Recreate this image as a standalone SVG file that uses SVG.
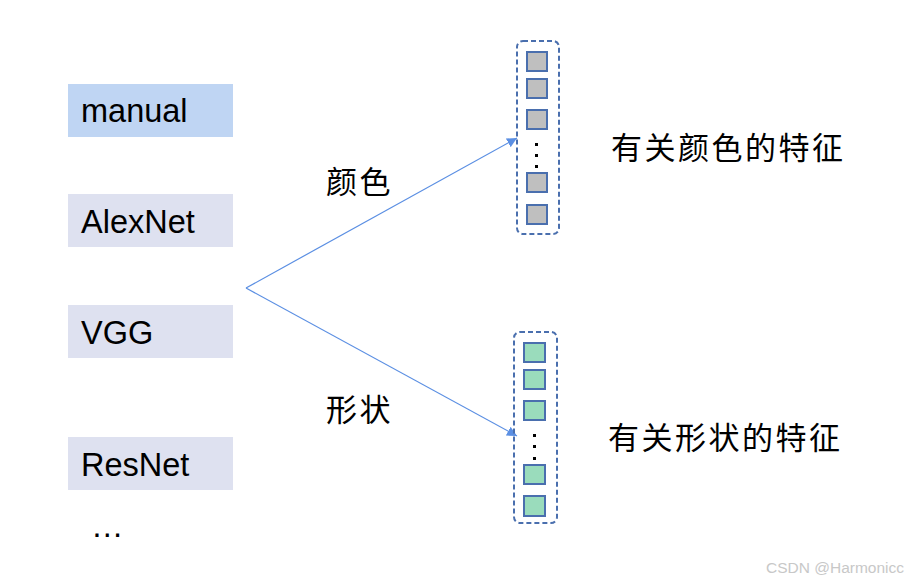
<svg xmlns="http://www.w3.org/2000/svg" width="918" height="583" viewBox="0 0 918 583">
<defs>
<style>
.box{stroke:none}
.lbl{font-family:"Liberation Sans",Arial,sans-serif;font-size:32.5px;fill:#000}
.cjk{font-family:"Noto Sans CJK SC","Liberation Sans",sans-serif;font-size:31px;letter-spacing:2.5px;fill:#000}
.cont{fill:none;stroke:#4a6fae;stroke-width:2;stroke-dasharray:5 3}
.sg{fill:#bfbfbf;stroke:#4a6fae;stroke-width:2}
.sq{fill:#9adcbc;stroke:#4a6fae;stroke-width:2}
.dot{fill:#000}
.conn{stroke:#5b8fe3;stroke-width:1.2;fill:none}
</style>
<marker id="ah" viewBox="0 0 10 10" refX="10" refY="5" markerWidth="10" markerHeight="10" markerUnits="userSpaceOnUse" orient="auto">
<path d="M0,0 L10,5 L0,10 z" fill="#5b8fe3"/>
</marker>
</defs>
<rect width="918" height="583" fill="#fff"/>
<g id="manual"><rect class="box" x="68" y="84" width="165" height="53" fill="#bfd5f3"/><text class="lbl" x="81" y="122">manual</text></g>
<g id="alexnet"><rect class="box" x="68" y="194" width="165" height="53" fill="#dee1f0"/><text class="lbl" x="81" y="233">AlexNet</text></g>
<g id="vgg"><rect class="box" x="68" y="305" width="165" height="53" fill="#dee1f0"/><text class="lbl" x="81" y="344">VGG</text></g>
<g id="resnet"><rect class="box" x="68" y="437" width="165" height="53" fill="#dee1f0"/><text class="lbl" x="81" y="476">ResNet</text></g>
<g id="more"><text class="lbl" x="91" y="537">…</text></g>
<g id="connectors">
<line class="conn" x1="246" y1="288" x2="517" y2="138" marker-end="url(#ah)"/>
<line class="conn" x1="246" y1="288" x2="517" y2="436" marker-end="url(#ah)"/>
<text class="cjk" x="326" y="193">颜色</text>
<text class="cjk" x="326" y="421">形状</text>
</g>
<g id="color-vec">
<rect class="cont" x="517" y="41" width="42" height="193" rx="6"/>
<rect class="sg" x="527" y="52" width="20" height="19"/>
<rect class="sg" x="527" y="79" width="20" height="19"/>
<rect class="sg" x="527" y="110" width="20" height="19"/>
<rect class="dot" x="535" y="143" width="3" height="3"/>
<rect class="dot" x="535" y="154" width="3" height="3"/>
<rect class="dot" x="535" y="165" width="3" height="3"/>
<rect class="sg" x="527" y="173" width="20" height="19"/>
<rect class="sg" x="527" y="205" width="20" height="19"/>
</g>
<g id="shape-vec">
<rect class="cont" x="514" y="332" width="43" height="191" rx="6"/>
<rect class="sq" x="524" y="343" width="21" height="19"/>
<rect class="sq" x="524" y="370" width="21" height="19"/>
<rect class="sq" x="524" y="401" width="21" height="19"/>
<rect class="dot" x="533" y="434" width="3" height="3"/>
<rect class="dot" x="533" y="445" width="3" height="3"/>
<rect class="dot" x="533" y="457" width="3" height="3"/>
<rect class="sq" x="524" y="465" width="21" height="19"/>
<rect class="sq" x="524" y="496" width="21" height="20"/>
</g>
<g id="color-label"><text class="cjk" x="611" y="159">有关颜色的特征</text></g>
<g id="shape-label"><text class="cjk" x="608" y="449">有关形状的特征</text></g>
<text x="766" y="573" font-family="Liberation Sans,Arial,sans-serif" font-size="15.5" fill="#c8c8c8">CSDN @Harmonicc</text>
</svg>
